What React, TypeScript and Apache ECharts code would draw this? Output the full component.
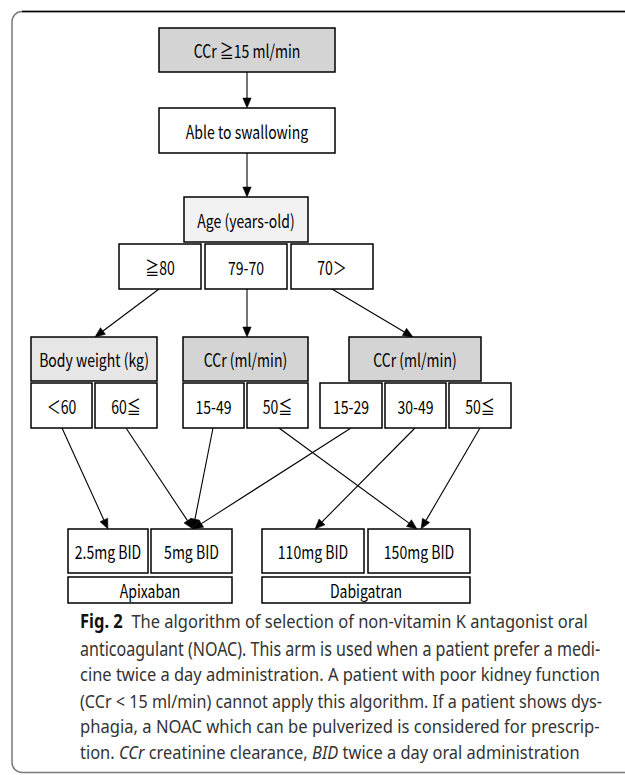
import React, { useEffect, useRef } from "react";
import * as echarts from "echarts";

// ---- Flowchart content ----
const boxLabels = [
  "CCr ≧15 ml/min",
  "Able to swallowing",
  "Age (years-old)",
  "≧80",
  "79-70",
  "70＞",
  "Body weight (kg)",
  "CCr (ml/min)",
  "CCr (ml/min)",
  "＜60",
  "60≦",
  "15-49",
  "50≦",
  "15-29",
  "30-49",
  "50≦",
  "2.5mg BID",
  "5mg BID",
  "110mg BID",
  "150mg BID",
  "Apixaban",
  "Dabigatran",
];

// layout (diagram units): [x0, y0, x1, y1]
const boxLayout = [
  [159, 28, 335, 72],
  [159, 108, 335, 153],
  [184, 197, 308, 242],
  [119, 244, 201, 289],
  [205, 244, 287, 289],
  [291, 244, 373, 289],
  [31, 337, 157, 381],
  [183, 337, 308, 381],
  [349, 337, 481, 381],
  [31, 383, 92, 428],
  [95, 383, 157, 428],
  [183, 383, 244, 428],
  [247, 383, 308, 428],
  [320, 383, 382, 428],
  [385, 383, 446, 428],
  [449, 383, 511, 428],
  [68, 529, 148, 573],
  [151, 529, 232, 573],
  [262, 529, 364, 573],
  [368, 529, 470, 573],
  [68, 577, 232, 603],
  [262, 577, 470, 603],
];

const boxFills = [
  "#d4d4d4", "#ffffff", "#f2f2f2", "#ffffff", "#ffffff", "#ffffff",
  "#e6e6e6", "#d4d4d4", "#d4d4d4",
  "#ffffff", "#ffffff", "#ffffff", "#ffffff", "#ffffff", "#ffffff", "#ffffff",
  "#ffffff", "#ffffff", "#ffffff", "#ffffff", "#ffffff", "#ffffff",
];

// arrows: [fromX, fromY, toX, toY]
const arrowLayout = [
  [247, 72, 247, 108],
  [247, 153, 247, 197],
  [159, 289, 95, 337],
  [247, 289, 247, 337],
  [332, 289, 413, 337],
  [62, 428, 108, 529],
  [126, 428, 193, 529],
  [213, 428, 193, 529],
  [351, 428, 193, 529],
  [279, 428, 417, 529],
  [415, 428, 315, 529],
  [480, 428, 421, 529],
];

// ---- Caption ----
type Seg = [string, string]; // [style, text]
const captionLines: Seg[][] = [
  [["b", "Fig. 2"], ["", "  The algorithm of selection of non-vitamin K antagonist oral"]],
  [["", "anticoagulant (NOAC). This arm is used when a patient prefer a medi-"]],
  [["", "cine twice a day administration. A patient with poor kidney function"]],
  [["", "(CCr < 15 ml/min) cannot apply this algorithm. If a patient shows dys-"]],
  [["", "phagia, a NOAC which can be pulverized is considered for prescrip-"]],
  [["", "tion. "], ["i", "CCr"], ["", " creatinine clearance, "], ["i", "BID"], ["", " twice a day oral administration"]],
];
const captionLineY = [621, 648, 674, 700, 726, 752];
const captionLineWidth = [508, 520, 520, 522, 520, 500];

const BOX_FONT = '"Noto Sans CJK JP", "Noto Sans", sans-serif';
const CAP_FONT = '"Noto Sans", "Open Sans", sans-serif';
const CAP_SIZE = 19;
const CAP_COLOR = "#333333";

function measureLine(segs: Seg[]): number {
  const c = document.createElement("canvas").getContext("2d");
  if (!c) return 1;
  let w = 0;
  for (const [s, t] of segs) {
    const prefix = s === "b" ? "bold " : s === "i" ? "italic " : "";
    c.font = `${prefix}${CAP_SIZE}px "Noto Sans"`;
    w += c.measureText(t).width;
  }
  return w || 1;
}

export default function App() {
  const ref = useRef<HTMLDivElement>(null);

  useEffect(() => {
    if (!ref.current) return;
    const chart = echarts.init(ref.current, undefined, { renderer: "svg" });

    const captionElements = captionLines.map((segs, i) => {
      const text = segs.map(([s, t]) => (s ? `{${s}|${t}}` : t)).join("");
      const sx = captionLineWidth[i] / measureLine(segs);
      return {
        type: "text",
        x: 80,
        y: captionLineY[i],
        scaleX: sx,
        style: {
          text,
          x: 0,
          y: 0,
          fill: CAP_COLOR,
          fontSize: CAP_SIZE,
          fontFamily: CAP_FONT,
          align: "left",
          verticalAlign: "middle",
          textAlign: "left",
          textVerticalAlign: "middle",
          rich: {
            b: { fontSize: CAP_SIZE, fontFamily: CAP_FONT, fontWeight: "bold", fill: "#111111" },
            i: { fontSize: CAP_SIZE, fontFamily: CAP_FONT, fontStyle: "italic", fill: CAP_COLOR },
          },
        },
      };
    });

    const option: any = {
      animation: false,
      backgroundColor: "#ffffff",
      grid: { left: 0, top: 0, right: 0, bottom: 0 },
      xAxis: { type: "value", min: 0, max: 625, show: false },
      yAxis: { type: "value", min: 0, max: 775, inverse: true, show: false },
      graphic: [
        {
          type: "rect",
          shape: { x: 12, y: 11.5, width: 700, height: 761, r: 10 },
          style: { fill: "none", stroke: "#7a7a7a", lineWidth: 1.5 },
          silent: true,
        },
        {
          type: "line",
          shape: { x1: 22, y1: 11.5, x2: 625, y2: 11.5 },
          style: { stroke: "#000000", lineWidth: 1.3 },
          silent: true,
        },
        ...captionElements,
      ],
      series: [
        {
          type: "custom",
          name: "arrows",
          clip: false,
          silent: true,
          data: arrowLayout.map((_, i) => [i, 0]),
          renderItem: (params: any, api: any) => {
            const i = api.value(0);
            const a = arrowLayout[i];
            const p1 = api.coord([a[0], a[1]]);
            const p2 = api.coord([a[2], a[3]]);
            const dx = p2[0] - p1[0];
            const dy = p2[1] - p1[1];
            const len = Math.sqrt(dx * dx + dy * dy) || 1;
            const ux = dx / len;
            const uy = dy / len;
            const L = 10;
            const W = 4.2;
            const bx = p2[0] - ux * L;
            const by = p2[1] - uy * L;
            return {
              type: "group",
              children: [
                {
                  type: "line",
                  shape: { x1: p1[0], y1: p1[1], x2: bx, y2: by },
                  style: { stroke: "#000", lineWidth: 1.1 },
                },
                {
                  type: "polygon",
                  shape: {
                    points: [
                      [p2[0], p2[1]],
                      [bx - uy * W, by + ux * W],
                      [bx + uy * W, by - ux * W],
                    ],
                  },
                  style: { fill: "#000", stroke: "#000", lineWidth: 0.5 },
                },
              ],
            };
          },
        },
        {
          type: "custom",
          name: "boxes",
          clip: false,
          silent: true,
          data: boxLabels.map((_, i) => [i, 0]),
          renderItem: (params: any, api: any) => {
            const i = api.value(0);
            const b = boxLayout[i];
            const p0 = api.coord([b[0], b[1]]);
            const p1 = api.coord([b[2], b[3]]);
            const cx = (p0[0] + p1[0]) / 2;
            const cy = (p0[1] + p1[1]) / 2;
            return {
              type: "group",
              children: [
                {
                  type: "rect",
                  shape: { x: p0[0], y: p0[1], width: p1[0] - p0[0], height: p1[1] - p0[1] },
                  style: { fill: boxFills[i], stroke: "#000", lineWidth: 1.5 },
                },
                {
                  type: "text",
                  x: cx,
                  y: cy + 0.5,
                  scaleX: 0.78,
                  style: {
                    text: boxLabels[i],
                    x: 0,
                    y: 0,
                    fill: "#000",
                    fontSize: 18,
                    fontFamily: BOX_FONT,
                    align: "center",
                    verticalAlign: "middle",
                    textAlign: "center",
                    textVerticalAlign: "middle",
                  },
                },
              ],
            };
          },
        },
      ],
    };

    chart.setOption(option);
    return () => chart.dispose();
  }, []);

  return (
    <div
      ref={ref}
      style={{ position: "fixed", left: 0, top: 0, width: 625, height: 775, background: "#fff" }}
    />
  );
}
